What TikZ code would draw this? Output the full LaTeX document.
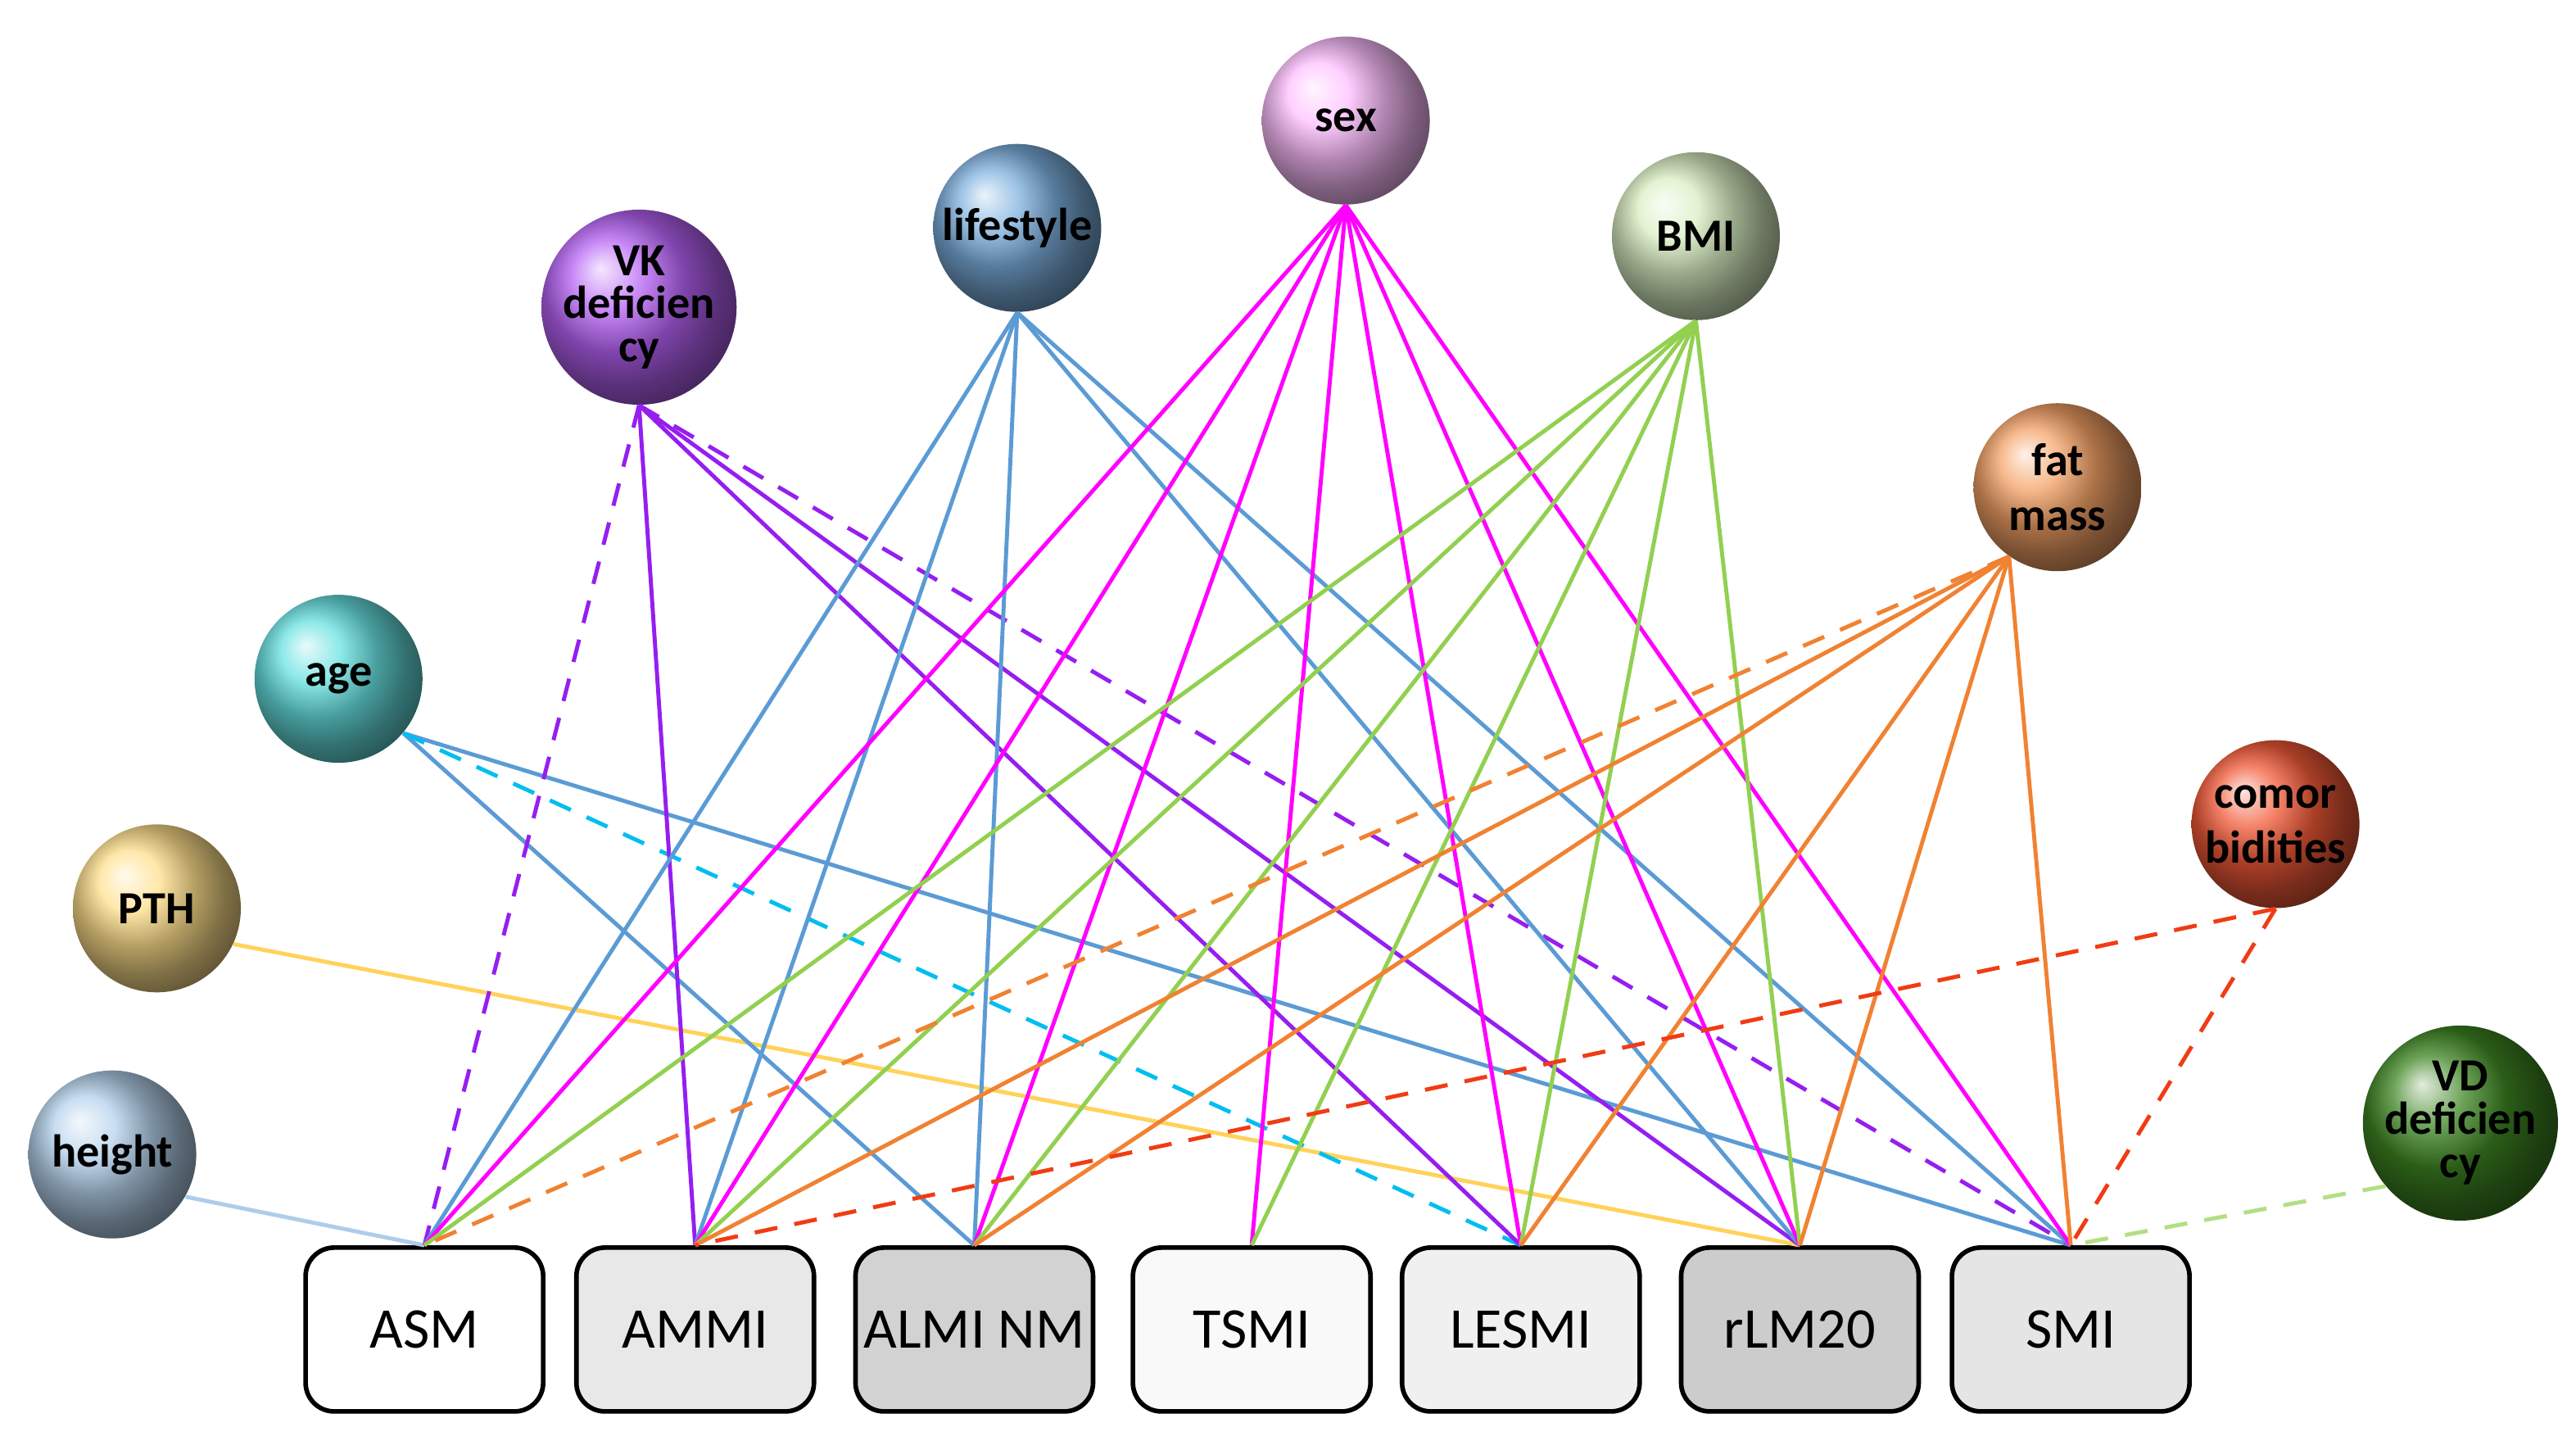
\documentclass[tikz,border=0pt]{standalone}
\usepackage{fontspec}
\setmainfont{Carlito}
\usepackage{tikz}
\usetikzlibrary{positioning}
\definecolor{azulcito}{RGB}{91,155,213}
\definecolor{rosita}{RGB}{255,0,255}
\definecolor{moradito}{RGB}{150,30,240}
\definecolor{verdecito}{RGB}{146,208,80}
\definecolor{naranjita}{RGB}{240,130,50}
\definecolor{rojito}{RGB}{240,60,20}
\definecolor{cielito}{RGB}{0,190,240}
\definecolor{amarillito}{RGB}{255,210,90}
\tikzset{
  factor/.style={circle, minimum size=2.05cm, inner sep=0pt, align=center, font=\fontsize{16}{15}\selectfont\bfseries, text=black},
  outcome/.style={draw=black, line width=1.6pt, rounded corners=0.35cm, minimum width=2.9cm, minimum height=2cm, inner sep=0pt, font=\fontsize{20}{20}\selectfont},
  link/.style={line width=1.4pt},
  dlink/.style={line width=1.4pt, dash pattern=on 8pt off 6pt}
}
\begin{document}
\begin{tikzpicture}[x=0.02016cm,y=-0.02016cm]
  \useasboundingbox (0,0) rectangle (1560,872.5);

  % outcomes
  \node[outcome, fill=white] (asm) at (257,805) {ASM};
  \node[outcome, fill=gray!18] (ammi) at (421,805) {AMMI};
  \node[outcome, fill=gray!35] (almi) at (590,805) {ALMI NM};
  \node[outcome, fill=gray!5] (tsmi) at (758,805) {TSMI};
  \node[outcome, fill=gray!12] (lesmi) at (921,805) {LESMI};
  \node[outcome, fill=gray!40] (rlm) at (1090,805) {rLM20};
  \node[outcome, fill=gray!20] (smi) at (1254,805) {SMI};

  % factors
  \node[factor, shading=ball, ball color=magenta!25!white] (sex) at (815,73) {sex};
  \node[factor, shading=ball, ball color=azulcito!80!white] (life) at (616,138) {lifestyle};
  \node[factor, shading=ball, ball color=moradito!70!white] (vk) at (387,186) {VK\\deficien\\cy};
  \node[factor, shading=ball, ball color=verdecito!35!white] (bmi) at (1027,143) {BMI};
  \node[factor, shading=ball, ball color=naranjita!75!white] (fat) at (1246,295) {fat\\[4pt]mass};
  \node[factor, shading=ball, ball color=cyan!60!teal!60!white] (age) at (205,411) {age};
  \node[factor, shading=ball, ball color=amarillito!70!white] (pth) at (95,550) {PTH};
  \node[factor, shading=ball, ball color=azulcito!45!white] (height) at (68,699) {height};
  \node[factor, shading=ball, ball color=rojito!85!white] (comor) at (1378,499) {comor\\[4pt]bidities};
  \node[factor, shading=ball, ball color=verdecito!70!green!60!black] (vd) at (1490,680) {VD\\deficien\\cy};

  % connectors
  \draw[link, azulcito!50] (height.-30) -- (asm.north);
  \draw[link, amarillito] (pth.-25) -- (rlm.north);
  \draw[link, azulcito] (age.-40) -- (almi.north);
  \draw[link, azulcito] (age.-40) -- (smi.north);
  \draw[dlink, cielito] (age.-40) -- (lesmi.north);
  \draw[dlink, moradito] (vk.south) -- (asm.north);
  \draw[dlink, moradito] (vk.south) -- (smi.north);
  \foreach \o in {ammi,lesmi,rlm} \draw[link, moradito] (vk.south) -- (\o.north);
  \foreach \o in {asm,ammi,almi,rlm,smi} \draw[link, azulcito] (life.south) -- (\o.north);
  \foreach \o in {asm,ammi,almi,tsmi,lesmi,rlm,smi} \draw[link, rosita] (sex.south) -- (\o.north);
  \foreach \o in {asm,ammi,almi,tsmi,lesmi,rlm} \draw[link, verdecito] (bmi.south) -- (\o.north);
  \draw[dlink, naranjita] (fat.235) -- (asm.north);
  \foreach \o in {ammi,almi,lesmi,rlm,smi} \draw[link, naranjita] (fat.235) -- (\o.north);
  \draw[dlink, rojito] (comor.south) -- (ammi.north);
  \draw[dlink, rojito] (comor.south) -- (smi.north);
  \draw[dlink, verdecito!70] (vd.220) -- (smi.north);
\end{tikzpicture}
\end{document}
